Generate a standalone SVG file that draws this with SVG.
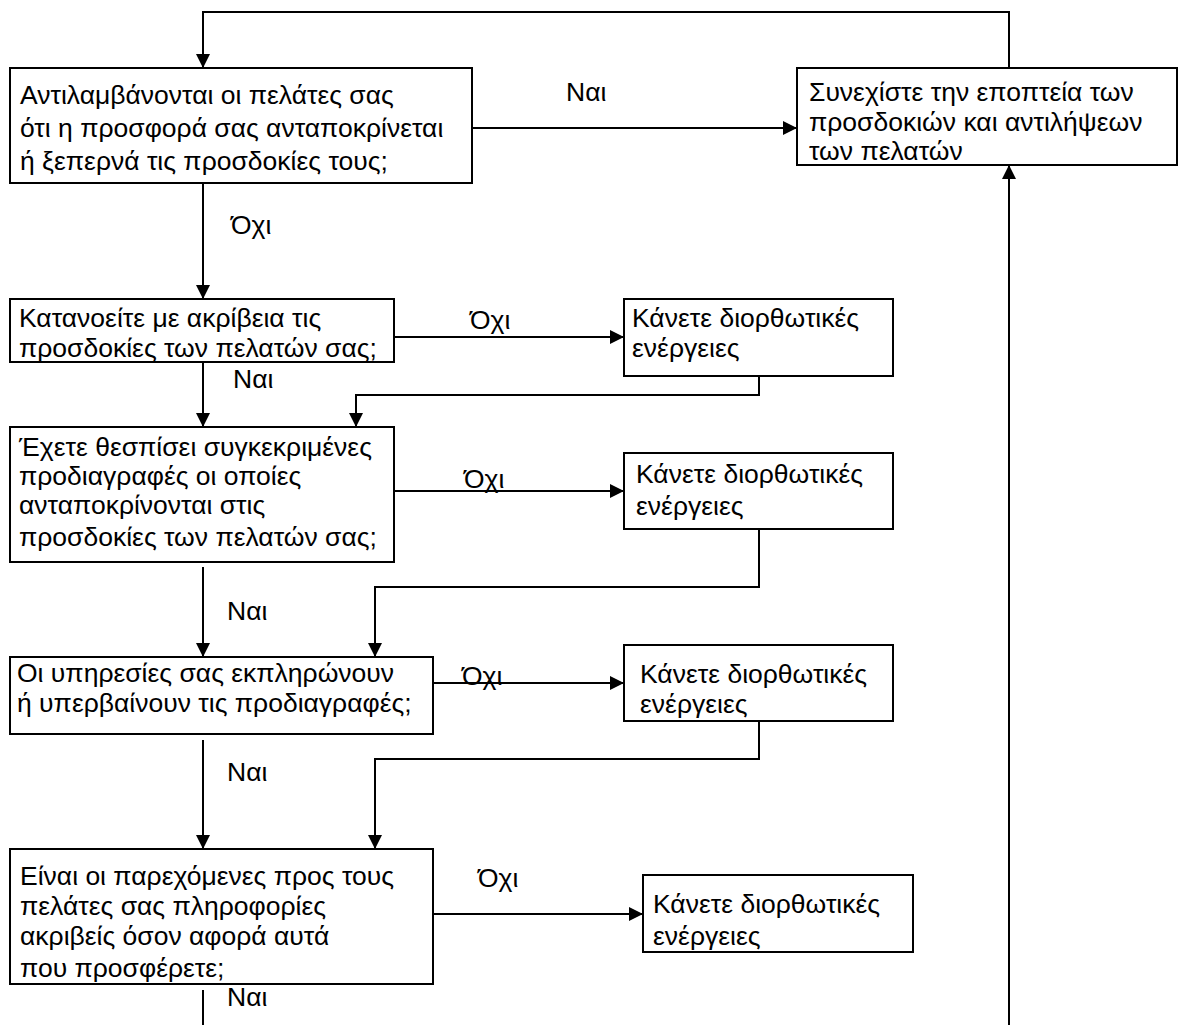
<svg xmlns="http://www.w3.org/2000/svg" width="1183" height="1025" viewBox="0 0 1183 1025">
<style>
  .box { fill: #ffffff; stroke: #000000; stroke-width: 2; }
  .t { font-family: "Liberation Sans", Arial, sans-serif; font-size: 26.5px; fill: #000000; }
  .c { fill: none; stroke: #000000; stroke-width: 2; }
</style>
<defs>
  <marker id="ah" markerUnits="userSpaceOnUse" markerWidth="14" markerHeight="14" viewBox="0 0 14 14" refX="14" refY="7" orient="auto">
    <path d="M0,0 L14,7 L0,14 z" fill="#000000"/>
  </marker>
</defs>
<rect width="1183" height="1025" fill="#ffffff"/>

<g id="connectors">
  <polyline class="c" points="1009,68 1009,12 203,12 203,68" marker-end="url(#ah)"/>
  <line class="c" x1="471" y1="128" x2="797" y2="128" marker-end="url(#ah)"/>
  <line class="c" x1="1009" y1="1025" x2="1009" y2="165" marker-end="url(#ah)"/>
  <line class="c" x1="203" y1="183" x2="203" y2="299" marker-end="url(#ah)"/>
  <line class="c" x1="394" y1="337" x2="624" y2="337" marker-end="url(#ah)"/>
  <line class="c" x1="203" y1="362" x2="203" y2="427" marker-end="url(#ah)"/>
  <polyline class="c" points="759,376 759,395 356,395 356,427" marker-end="url(#ah)"/>
  <line class="c" x1="394" y1="491" x2="624" y2="491" marker-end="url(#ah)"/>
  <line class="c" x1="203" y1="567" x2="203" y2="657" marker-end="url(#ah)"/>
  <polyline class="c" points="759,529 759,587 375,587 375,657" marker-end="url(#ah)"/>
  <line class="c" x1="433" y1="683" x2="624" y2="683" marker-end="url(#ah)"/>
  <line class="c" x1="203" y1="740" x2="203" y2="849" marker-end="url(#ah)"/>
  <polyline class="c" points="759,721 759,759 375,759 375,849" marker-end="url(#ah)"/>
  <line class="c" x1="433" y1="914" x2="643" y2="914" marker-end="url(#ah)"/>
  <line class="c" x1="203" y1="990" x2="203" y2="1025"/>
</g>

<g id="labels">
  <text class="t" x="566" y="101">Ναι</text>
  <text class="t" x="231" y="234">Όχι</text>
  <text class="t" x="470" y="329">Όχι</text>
  <text class="t" x="233" y="388">Ναι</text>
  <text class="t" x="464" y="488">Όχι</text>
  <text class="t" x="227" y="620">Ναι</text>
  <text class="t" x="462" y="685">Όχι</text>
  <text class="t" x="227" y="781">Ναι</text>
  <text class="t" x="478" y="887">Όχι</text>
  <text class="t" x="227" y="1006">Ναι</text>
</g>

<g id="q1">
  <rect class="box" x="10" y="68" width="462" height="115"/>
  <text class="t" x="20" y="104">Αντιλαμβάνονται οι πελάτες σας</text>
  <text class="t" x="20" y="137">ότι η προσφορά σας ανταποκρίνεται</text>
  <text class="t" x="20" y="170">ή ξεπερνά τις προσδοκίες τους;</text>
</g>

<g id="monitor">
  <rect class="box" x="797" y="68" width="380" height="97"/>
  <text class="t" x="809" y="101">Συνεχίστε την εποπτεία των</text>
  <text class="t" x="809" y="131">προσδοκιών και αντιλήψεων</text>
  <text class="t" x="809" y="160">των πελατών</text>
</g>

<g id="q2">
  <rect class="box" x="10" y="299" width="384" height="63"/>
  <text class="t" x="19" y="327">Κατανοείτε με ακρίβεια τις</text>
  <text class="t" x="19" y="357">προσδοκίες των πελατών σας;</text>
</g>

<g id="fix1">
  <rect class="box" x="624" y="299" width="269" height="77"/>
  <text class="t" x="632" y="327">Κάνετε διορθωτικές</text>
  <text class="t" x="632" y="357">ενέργειες</text>
</g>

<g id="q3">
  <rect class="box" x="10" y="427" width="384" height="135"/>
  <text class="t" x="19" y="456">Έχετε θεσπίσει συγκεκριμένες</text>
  <text class="t" x="19" y="485">προδιαγραφές οι οποίες</text>
  <text class="t" x="19" y="514">ανταποκρίνονται στις</text>
  <text class="t" x="19" y="546">προσδοκίες των πελατών σας;</text>
</g>

<g id="fix2">
  <rect class="box" x="624" y="453" width="269" height="76"/>
  <text class="t" x="636" y="483">Κάνετε διορθωτικές</text>
  <text class="t" x="636" y="515">ενέργειες</text>
</g>

<g id="q4">
  <rect class="box" x="10" y="657" width="423" height="77"/>
  <text class="t" x="17" y="682">Οι υπηρεσίες σας εκπληρώνουν</text>
  <text class="t" x="17" y="712">ή υπερβαίνουν τις προδιαγραφές;</text>
</g>

<g id="fix3">
  <rect class="box" x="624" y="645" width="269" height="76"/>
  <text class="t" x="640" y="683">Κάνετε διορθωτικές</text>
  <text class="t" x="640" y="713">ενέργειες</text>
</g>

<g id="q5">
  <rect class="box" x="10" y="849" width="423" height="135"/>
  <text class="t" x="20" y="885">Είναι οι παρεχόμενες προς τους</text>
  <text class="t" x="20" y="915">πελάτες σας πληροφορίες</text>
  <text class="t" x="20" y="945">ακριβείς όσον αφορά αυτά</text>
  <text class="t" x="20" y="977">που προσφέρετε;</text>
</g>

<g id="fix4">
  <rect class="box" x="643" y="875" width="270" height="77"/>
  <text class="t" x="653" y="913">Κάνετε διορθωτικές</text>
  <text class="t" x="653" y="945">ενέργειες</text>
</g>
</svg>
